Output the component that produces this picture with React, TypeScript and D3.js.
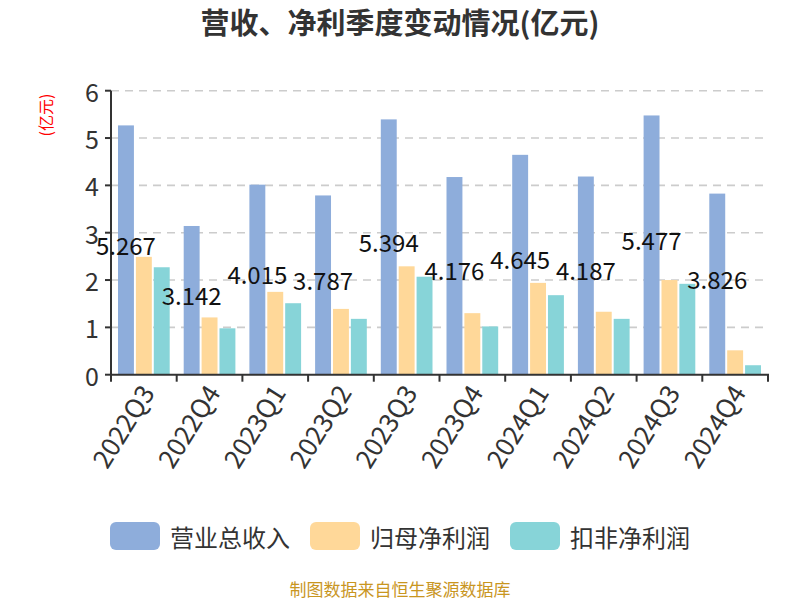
import { useEffect, useRef } from 'react';
import * as d3 from 'd3';

// quarterly values, 亿元
const quarters = ['2022Q3', '2022Q4', '2023Q1', '2023Q2', '2023Q3', '2023Q4', '2024Q1', '2024Q2', '2024Q3', '2024Q4'];
const revenue = [5.267, 3.142, 4.015, 3.787, 5.394, 4.176, 4.645, 4.187, 5.477, 3.826];
const netProfit = [2.49, 1.21, 1.75, 1.39, 2.29, 1.3, 1.94, 1.33, 2.0, 0.515];
const deductedProfit = [2.27, 0.98, 1.51, 1.18, 2.07, 1.02, 1.68, 1.18, 1.92, 0.2];
const seriesNames = ['营业总收入', '归母净利润', '扣非净利润'];
const seriesColors = ['#8eaddb', '#ffd899', '#87d4d8'];
const yTicks = [0, 1, 2, 3, 4, 5, 6];

const W = 800;
const H = 600;
const FONT = '"Noto Sans CJK SC", "Noto Sans", sans-serif';

export default function App() {
  const svgRef = useRef<SVGSVGElement>(null);

  useEffect(() => {
    if (!svgRef.current) return;
    const svg = d3.select(svgRef.current);
    svg.selectAll('*').remove();

    const left = 111;
    const right = 768;
    const top = 90.7;
    const bottom = 374.7;

    const x0 = d3.scaleBand<string>().domain(quarters).range([left, right]).padding(0);
    const bw = x0.bandwidth();
    const x1 = d3.scaleBand<number>().domain([0, 1, 2]).range([7, bw - 7]).paddingInner(0.11);
    const y = d3.scaleLinear().domain([0, 6]).range([bottom, top]);

    const series = [revenue, netProfit, deductedProfit];

    // title
    svg.append('text')
      .attr('x', W / 2)
      .attr('y', 34)
      .attr('text-anchor', 'middle')
      .attr('font-family', FONT)
      .attr('font-size', '29px')
      .attr('font-weight', 'bold')
      .attr('fill', '#333')
      .text('营收、净利季度变动情况(亿元)');

    // unit label
    svg.append('text')
      .attr('transform', `translate(48,115) rotate(-90)`)
      .attr('text-anchor', 'middle')
      .attr('dominant-baseline', 'middle')
      .attr('font-family', FONT)
      .attr('font-size', '16px')
      .attr('fill', '#ff0000')
      .text('(亿元)');

    // grid
    svg.append('g')
      .selectAll('line')
      .data(yTicks.filter((t) => t > 0))
      .enter()
      .append('line')
      .attr('x1', left)
      .attr('x2', right)
      .attr('y1', (d) => y(d))
      .attr('y2', (d) => y(d))
      .attr('stroke', '#cccccc')
      .attr('stroke-width', 1.6)
      .attr('stroke-dasharray', '8,6');

    // y axis
    const yAxis = svg.append('g');
    yAxis.append('line')
      .attr('x1', left).attr('x2', left)
      .attr('y1', top).attr('y2', bottom)
      .attr('stroke', '#333').attr('stroke-width', 2);
    yTicks.forEach((t) => {
      yAxis.append('line')
        .attr('x1', left - 6).attr('x2', left)
        .attr('y1', y(t)).attr('y2', y(t))
        .attr('stroke', '#333').attr('stroke-width', 2);
      yAxis.append('text')
        .attr('x', left - 12)
        .attr('y', y(t))
        .attr('text-anchor', 'end')
        .attr('dominant-baseline', 'central')
        .attr('font-family', FONT)
        .attr('font-size', '25px')
        .attr('fill', '#333')
        .text(String(t));
    });

    // bars
    const groups = svg.append('g')
      .selectAll('g')
      .data(quarters)
      .enter()
      .append('g')
      .attr('transform', (d) => `translate(${x0(d)},0)`);

    groups.each(function (_q, i) {
      const g = d3.select(this);
      series.forEach((vals, s) => {
        g.append('rect')
          .attr('x', x1(s) ?? 0)
          .attr('width', x1.bandwidth())
          .attr('y', y(vals[i]))
          .attr('height', bottom - y(vals[i]))
          .attr('fill', seriesColors[s]);
      });
    });

    // x axis
    const xAxis = svg.append('g');
    xAxis.append('line')
      .attr('x1', left - 1).attr('x2', right + 1)
      .attr('y1', bottom).attr('y2', bottom)
      .attr('stroke', '#333').attr('stroke-width', 2);
    const boundaries = quarters.map((q) => x0(q) ?? 0).concat([right]);
    boundaries.forEach((bx) => {
      xAxis.append('line')
        .attr('x1', bx).attr('x2', bx)
        .attr('y1', bottom).attr('y2', bottom + 7)
        .attr('stroke', '#333').attr('stroke-width', 2);
    });
    quarters.forEach((q) => {
      const cx = (x0(q) ?? 0) + bw / 2;
      xAxis.append('text')
        .attr('transform', `translate(${cx + 2},${bottom + 12}) rotate(-58)`)
        .attr('text-anchor', 'end')
        .attr('dominant-baseline', 'central')
        .attr('font-family', FONT)
        .attr('font-size', '26px')
        .attr('fill', '#333')
        .text(q);
    });

    // value labels for revenue
    svg.append('g')
      .selectAll('text')
      .data(revenue)
      .enter()
      .append('text')
      .attr('x', (_d, i) => (x0(quarters[i]) ?? 0) + (x1(0) ?? 0) + x1.bandwidth() / 2)
      .attr('y', (d) => y(d / 2) - 6)
      .attr('text-anchor', 'middle')
      .attr('dominant-baseline', 'central')
      .attr('font-family', FONT)
      .attr('font-size', '24px')
      .attr('fill', '#111')
      .text((d) => d.toFixed(3));

    // legend
    const legendItemW = [60 + 120, 60 + 120, 60 + 120];
    const legendGap = 20;
    const totalW = d3.sum(legendItemW) + legendGap * 2;
    let lx = W / 2 - totalW / 2;
    const ly = 536;
    seriesNames.forEach((name, s) => {
      svg.append('rect')
        .attr('x', lx)
        .attr('y', ly - 14)
        .attr('width', 50)
        .attr('height', 28)
        .attr('rx', 6)
        .attr('fill', seriesColors[s]);
      svg.append('text')
        .attr('x', lx + 60)
        .attr('y', ly)
        .attr('dominant-baseline', 'central')
        .attr('font-family', FONT)
        .attr('font-size', '24px')
        .attr('fill', '#333')
        .text(name);
      lx += legendItemW[s] + legendGap;
    });

    // footer
    svg.append('text')
      .attr('x', W / 2)
      .attr('y', 596)
      .attr('text-anchor', 'middle')
      .attr('font-family', FONT)
      .attr('font-size', '17px')
      .attr('fill', '#c9961f')
      .text('制图数据来自恒生聚源数据库');
  }, []);

  return (
    <svg
      ref={svgRef}
      width={W}
      height={H}
      style={{ position: 'absolute', left: 0, top: 0, background: '#fff' }}
    />
  );
}
